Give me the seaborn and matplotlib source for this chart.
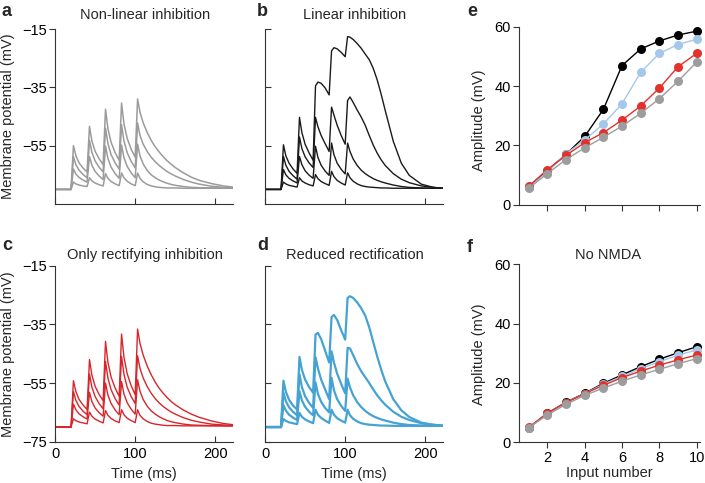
import matplotlib
matplotlib.use("Agg")
import matplotlib.pyplot as plt
import numpy as np
import pandas as pd
import seaborn as sns

# sample times (ms) shared by all voltage traces
TIME_MS = [0, 20, 23, 26, 30, 35, 40, 43, 46, 50, 55, 60, 63, 66, 70, 75, 80,
           83, 86, 90, 95, 100, 103, 106, 110, 115, 120, 125, 130, 135, 140,
           145, 150, 160, 170, 180, 195, 210, 222]

# panel a: non-linear inhibition (mV), bottom trace first
NONLIN_1 = [-70, -70, -67.5, -68.1, -68.5, -68.8, -69, -66, -67.1, -67.8, -68.4, -68.8, -64.6, -66.2, -67.3, -68.1, -68.7, -64.4, -66, -67.2, -68.1, -68.7, -64.4, -66.2, -67.4, -68.3, -68.8, -69.1, -69.3, -69.4, -69.5, -69.5, -69.5, -69.6, -69.6, -69.6, -69.6, -69.6, -69.6]
NONLIN_2 = [-70, -70, -63, -64.7, -65.9, -66.8, -67.5, -58.7, -61.7, -63.8, -65.4, -66.6, -55.2, -59.4, -62.4, -64.6, -66.2, -54.8, -59.1, -62.1, -64.3, -66, -54.5, -58.5, -61.3, -63.5, -65, -66, -66.8, -67.4, -67.9, -68.3, -68.6, -69, -69.3, -69.4, -69.5, -69.5, -69.6]
NONLIN_3 = [-70, -70, -58.7, -61.5, -63.4, -64.9, -66, -53.2, -57.3, -60.2, -62.4, -64, -49, -54.3, -58.1, -60.9, -63, -47.8, -53.4, -57.4, -60.4, -62.6, -47.2, -51.5, -54.5, -57, -59, -60.5, -61.8, -62.9, -63.9, -64.7, -65.4, -66.6, -67.5, -68.2, -68.9, -69.3, -69.5]
NONLIN_4 = [-70, -70, -55, -58.4, -60.9, -62.7, -64, -48.4, -53.4, -56.9, -59.5, -61.5, -42.5, -49.2, -53.9, -57.4, -60, -40.4, -47.5, -52.5, -56.2, -59, -39, -43.5, -47.2, -50.5, -53.2, -55.4, -57.2, -58.8, -60.2, -61.4, -62.5, -64.3, -65.8, -66.9, -68, -68.8, -69.2]

# panel b: linear inhibition
LIN_1 = [-70, -70, -67.5, -68.1, -68.6, -68.9, -69.2, -66, -67.1, -67.8, -68.4, -68.8, -64.9, -66.3, -67.3, -68, -68.6, -63.8, -65.6, -66.9, -67.8, -68.5, -64.3, -66, -67.2, -68.1, -68.7, -69, -69.2, -69.3, -69.4, -69.5, -69.5, -69.6, -69.6, -69.6, -69.6, -69.6, -69.6]
LIN_2 = [-70, -70, -63.2, -65, -66.2, -67.1, -67.8, -58.7, -61.5, -63.6, -65.1, -66.2, -55.2, -59, -61.7, -63.7, -65.2, -54.1, -58.1, -61, -63.1, -64.7, -54.1, -57, -59.6, -61.8, -63.4, -64.6, -65.5, -66.3, -66.9, -67.4, -67.8, -68.5, -69, -69.3, -69.5, -69.6, -69.6]
LIN_3 = [-70, -70, -58.7, -61.7, -63.8, -65.3, -66.5, -52, -56, -58.8, -60.9, -62.5, -45.3, -48.5, -51.5, -54.3, -57, -41.8, -44.5, -48, -51.5, -54.5, -39.5, -38.3, -40.2, -42.8, -45.2, -48, -51.5, -54.8, -57.6, -59.9, -61.8, -64.6, -66.5, -67.7, -68.8, -69.3, -69.6]
LIN_4 = [-70, -70, -54.7, -58.5, -61, -63, -64.5, -45.3, -50.5, -54.5, -57.5, -60, -34.5, -33.2, -33.6, -35.2, -37.6, -22.5, -21.4, -21.8, -23, -24.5, -17.6, -17.8, -18.6, -20, -21.6, -23.6, -25.5, -28.5, -32.5, -37.5, -43, -53.5, -61, -65.2, -68.2, -69.3, -69.6]

# panel c: only rectifying inhibition
RECT_1 = [-70, -70, -67.2, -67.8, -68.3, -68.6, -68.9, -64.9, -66.3, -67.3, -68, -68.6, -64.4, -66, -67.1, -67.9, -68.5, -64.1, -65.8, -67, -67.8, -68.5, -64.1, -66, -67.2, -68.1, -68.7, -69, -69.2, -69.4, -69.5, -69.5, -69.5, -69.6, -69.6, -69.6, -69.6, -69.6, -69.6]
RECT_2 = [-70, -70, -62.2, -64.1, -65.5, -66.5, -67.3, -58.2, -61.3, -63.5, -65.1, -66.3, -55, -59.1, -62, -64.2, -65.8, -54.5, -58.7, -61.7, -63.9, -65.6, -53.9, -57.8, -60.6, -62.9, -64.5, -65.6, -66.5, -67.2, -67.8, -68.2, -68.5, -69, -69.3, -69.4, -69.5, -69.6, -69.6]
RECT_3 = [-70, -70, -57.9, -60.9, -63, -64.6, -65.8, -51.9, -56.4, -59.6, -62, -63.8, -47.6, -53.3, -57.3, -60.3, -62.5, -45.9, -52, -56.4, -59.6, -62, -45.7, -50, -53.3, -56.2, -58.5, -60.3, -61.8, -63, -64, -64.9, -65.6, -66.8, -67.7, -68.3, -69, -69.3, -69.5]
RECT_4 = [-70, -70, -54.2, -57.9, -60.6, -62.5, -64, -47, -52.3, -56.1, -58.9, -61, -40.8, -47.9, -53, -56.7, -59.5, -38.3, -46.2, -51.8, -55.9, -59, -36.6, -41.5, -45.5, -49.2, -52.2, -54.7, -56.8, -58.5, -60, -61.3, -62.4, -64.2, -65.6, -66.7, -67.9, -68.8, -69.2]

# panel d: reduced rectification
RED_1 = [-70, -70, -67.3, -67.9, -68.4, -68.7, -69, -65.2, -66.5, -67.4, -68.1, -68.7, -64.1, -65.8, -66.9, -67.8, -68.6, -64.1, -65.8, -67, -67.8, -68.5, -64.1, -66, -67.2, -68.1, -68.7, -69, -69.2, -69.3, -69.4, -69.5, -69.5, -69.6, -69.6, -69.6, -69.6, -69.6, -69.6]
RED_2 = [-70, -70, -62.5, -64.4, -65.8, -66.8, -67.6, -57.8, -60.9, -63.1, -64.8, -66, -54.8, -58.7, -61.4, -63.5, -65, -53.2, -57.5, -60.5, -62.8, -64.5, -53.5, -56.5, -59.2, -61.5, -63.2, -64.5, -65.5, -66.3, -66.9, -67.4, -67.8, -68.5, -69, -69.3, -69.5, -69.6, -69.6]
RED_3 = [-70, -70, -58.3, -61.2, -63.3, -64.8, -66, -52, -56.4, -59.5, -61.8, -63.5, -46.2, -50, -53.8, -57.2, -60.5, -44.2, -48, -51.8, -55.3, -58.5, -43, -43.2, -45.5, -48.5, -51, -53, -55, -57.2, -59.2, -60.9, -62.4, -64.8, -66.5, -67.6, -68.7, -69.2, -69.5]
RED_4 = [-70, -70, -54.2, -58, -60.7, -62.7, -64, -46.1, -50.5, -53.8, -56.4, -58.3, -38.5, -37.9, -40, -44, -48, -32.5, -31.8, -33.5, -37, -40.2, -26, -25.4, -26, -27.5, -29.5, -32, -36, -41, -46, -50.5, -54.5, -60.5, -64.3, -66.6, -68.5, -69.3, -69.6]

# panels e/f: amplitude (mV) vs input number
INPUTS = [1, 2, 3, 4, 5, 6, 7, 8, 9, 10]
E_LINEAR = [6, 11.5, 17, 23, 32.1, 46.9, 52.5, 55.2, 57.2, 58.5]
E_REDUCED = [6, 11, 17.2, 21.8, 27.2, 34, 44.6, 51, 54, 55.8]
E_RECT = [6.2, 11.8, 16.6, 20.9, 24.3, 28.5, 33.3, 39.3, 46.5, 51]
E_NONLIN = [5.5, 10.5, 15.2, 19.2, 22.7, 26.5, 30.8, 35.7, 41.6, 48.1]
F_LINEAR = [4.9, 9.8, 13.5, 16.5, 19.9, 22.7, 25.5, 28, 30.2, 32.2]
F_REDUCED = [4.9, 9.7, 13.4, 16.4, 19.6, 22.2, 24.8, 27.2, 29.3, 31.2]
F_RECT = [5, 9.8, 13.4, 16.4, 19.2, 21.8, 24, 26, 27.8, 29.4]
F_NONLIN = [4.9, 9.2, 12.8, 15.8, 18.3, 20.6, 22.7, 24.6, 26.5, 28.2]

CONDITIONS = ["linear", "reduced", "rect", "nonlin"]
AMP_COLORS = {"linear": "#000000", "reduced": "#a5c8ea",
              "rect": "#e1322d", "nonlin": "#9d9d9d"}

W, H = 705, 483

sns.set_style("ticks")
plt.rcParams["font.family"] = ["Liberation Sans", "DejaVu Sans"]
plt.rcParams["font.size"] = 10.5
plt.rcParams["axes.linewidth"] = 0.8
plt.rcParams["axes.edgecolor"] = "#333333"
plt.rcParams["xtick.color"] = "#333333"
plt.rcParams["ytick.color"] = "#333333"
plt.rcParams["xtick.labelcolor"] = "black"
plt.rcParams["ytick.labelcolor"] = "black"

fig = plt.figure(figsize=(W / 100, H / 100), dpi=100)


def px_axes(left, top, right, bottom):
    return fig.add_axes([left / W, 1 - bottom / H, (right - left) / W, (bottom - top) / H])


def px_text(x, y, s, **kw):
    fig.text(x / W, 1 - y / H, s, **kw)


def trace_frame(traces):
    parts = [pd.DataFrame({"time": TIME_MS, "vm": v, "trace": i}) for i, v in enumerate(traces)]
    return pd.concat(parts, ignore_index=True)


def voltage_panel(ax, traces, color, lw, left_col, bottom_row):
    sns.lineplot(data=trace_frame(traces), x="time", y="vm", units="trace",
                 estimator=None, sort=False, color=color, lw=lw, ax=ax)
    ax.set_xlim(0, 222)
    ax.set_ylim(-75, -15)
    ax.set_xticks([0, 100, 200])
    ax.set_xlabel("")
    ax.set_ylabel("")
    ax.tick_params(axis="x", direction="in", length=4, pad=4)
    if bottom_row:
        ax.set_yticks([-75, -55, -35, -15])
        ax.set_xlabel("Time (ms)", labelpad=4)
    else:
        ax.set_yticks([-55, -35, -15])
        ax.set_xticklabels([])
    if left_col:
        ax.tick_params(axis="y", direction="out", length=4, pad=2)
    else:
        ax.tick_params(axis="y", direction="in", length=4)
        ax.set_yticklabels([])
    sns.despine(ax=ax)


ax_a = px_axes(55, 29, 233, 204)
ax_b = px_axes(265, 29, 443, 204)
ax_c = px_axes(55, 265.7, 233, 441.7)
ax_d = px_axes(265, 265.7, 443, 441.7)

voltage_panel(ax_a, [NONLIN_1, NONLIN_2, NONLIN_3, NONLIN_4], "#9b9b9b", 1.1, True, False)
voltage_panel(ax_b, [LIN_1, LIN_2, LIN_3, LIN_4], "#1a1a1a", 1.0, False, False)
voltage_panel(ax_c, [RECT_1, RECT_2, RECT_3, RECT_4], "#d7262b", 1.0, True, True)
voltage_panel(ax_d, [RED_1, RED_2, RED_3, RED_4], "#45a3d3", 1.6, False, True)


def amp_frame(series):
    parts = [pd.DataFrame({"input": INPUTS, "amp": v, "cond": c})
             for c, v in zip(CONDITIONS, series)]
    return pd.concat(parts, ignore_index=True)


def amp_panel(ax, series, show_x):
    sns.lineplot(data=amp_frame(series), x="input", y="amp", hue="cond",
                 hue_order=CONDITIONS, palette=AMP_COLORS, marker="o",
                 markersize=6.5, markeredgewidth=0, lw=1.0, legend=False,
                 ax=ax, clip_on=False)
    ax.set_xlim(0.5, 10.15)
    ax.set_ylim(0, 60)
    ax.set_xticks([2, 4, 6, 8, 10])
    ax.set_yticks([0, 20, 40, 60])
    ax.tick_params(direction="out", length=4, pad=2)
    ax.set_xlabel("")
    ax.set_ylabel("")
    if show_x:
        ax.set_xlabel("Input number", labelpad=1)
    else:
        ax.set_xticklabels([])
    sns.despine(ax=ax)


ax_e = px_axes(519.3, 26.7, 699.5, 204.7)
ax_f = px_axes(519.3, 264.3, 699.5, 442.3)
amp_panel(ax_e, [E_LINEAR, E_REDUCED, E_RECT, E_NONLIN], False)
amp_panel(ax_f, [F_LINEAR, F_REDUCED, F_RECT, F_NONLIN], True)

# titles
px_text(145, 15, "Non-linear inhibition", ha="center", va="center", fontsize=10.5)
px_text(355, 15, "Linear inhibition", ha="center", va="center", fontsize=10.5)
px_text(145, 255, "Only rectifying inhibition", ha="center", va="center", fontsize=10.5)
px_text(355, 255, "Reduced rectification", ha="center", va="center", fontsize=10.5)
px_text(608, 255, "No NMDA", ha="center", va="center", fontsize=10.5)

# y labels
px_text(8, 116, "Membrane potential (mV)", rotation=90, ha="center", va="center", fontsize=10.5)
px_text(8, 354, "Membrane potential (mV)", rotation=90, ha="center", va="center", fontsize=10.5)
px_text(479, 120, "Amplitude (mV)", rotation=90, ha="center", va="center", fontsize=10.5)
px_text(479, 354, "Amplitude (mV)", rotation=90, ha="center", va="center", fontsize=10.5)

# panel letters
for letter, x, y in [("a", 2, 11), ("b", 257, 11), ("c", 2, 246),
                     ("d", 257, 246), ("e", 467, 11), ("f", 467, 247)]:
    px_text(x, y, letter, ha="left", va="center", fontsize=13, fontweight="bold")

fig.savefig("out.png", dpi=100)
